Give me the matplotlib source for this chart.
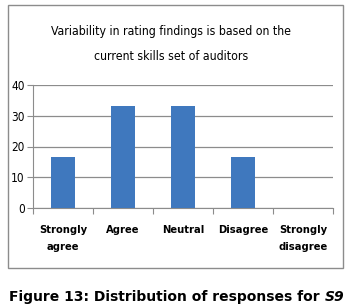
import matplotlib
matplotlib.use("Agg")
import matplotlib.pyplot as plt
from matplotlib.patches import Rectangle

categories = ["Strongly\nagree", "Agree", "Neutral", "Disagree", "Strongly\ndisagree"]
values = [16.67, 33.33, 33.33, 16.67, 0]
yticks = [0, 10, 20, 30, 40]
title_lines = ["Variability in rating findings is based on the",
               "current skills set of auditors"]
caption_main = "Figure 13: Distribution of responses for "
caption_it = "S9"

narrow = dict(family="DejaVu Sans", stretch="condensed")

fig = plt.figure(figsize=(3.5, 3.07), dpi=100)
fig.patch.set_facecolor("white")

fig.add_artist(Rectangle((8/350, 1-268/307), (343-8)/350, (268-5)/307,
                         transform=fig.transFigure, fill=False,
                         edgecolor="#8c8c8c", linewidth=1.0))

ax = fig.add_axes([33/350, 1-208/307, 300/350, 123/307])
x = range(len(categories))
ax.bar(x, values, width=0.4, color="#3f78be", zorder=3)
ax.set_xlim(-0.5, len(categories)-0.5)
ax.set_ylim(0, 40)
ax.set_yticks(yticks)
ax.set_yticklabels([str(t) for t in yticks], fontsize=8.5, **narrow)
ax.grid(axis="y", color="#8c8c8c", linewidth=0.9, zorder=0)
for s in ["top", "right"]:
    ax.spines[s].set_visible(False)
ax.spines["left"].set_color("#8c8c8c")
ax.spines["bottom"].set_color("#8c8c8c")
ax.tick_params(axis="y", length=4, color="#8c8c8c", pad=2)
ax.set_xticks([i + 0.5 for i in range(-1, len(categories))])
ax.set_xticklabels([])
ax.tick_params(axis="x", length=4, color="#8c8c8c")
for i, c in enumerate(categories):
    ax.text(i, -5.5, c, ha="center", va="top", fontsize=8, fontweight="bold",
            linespacing=1.85, **narrow)

fig.text(171/350, 1-32/307, title_lines[0],
         ha="center", va="center", fontsize=8.8, **narrow)
fig.text(171/350, 1-57/307, title_lines[1],
         ha="center", va="center", fontsize=8.8, **narrow)

t = fig.text(9/350, 1-297/307, caption_main, ha="left", va="center",
             fontsize=10, fontweight="bold", family="DejaVu Sans")
fig.canvas.draw()
bb = t.get_window_extent()
fig.text(bb.x1/350, 1-297/307, caption_it, ha="left", va="center",
         fontsize=10, fontweight="bold", style="italic", family="DejaVu Sans")

fig.savefig("out.png", dpi=100)
